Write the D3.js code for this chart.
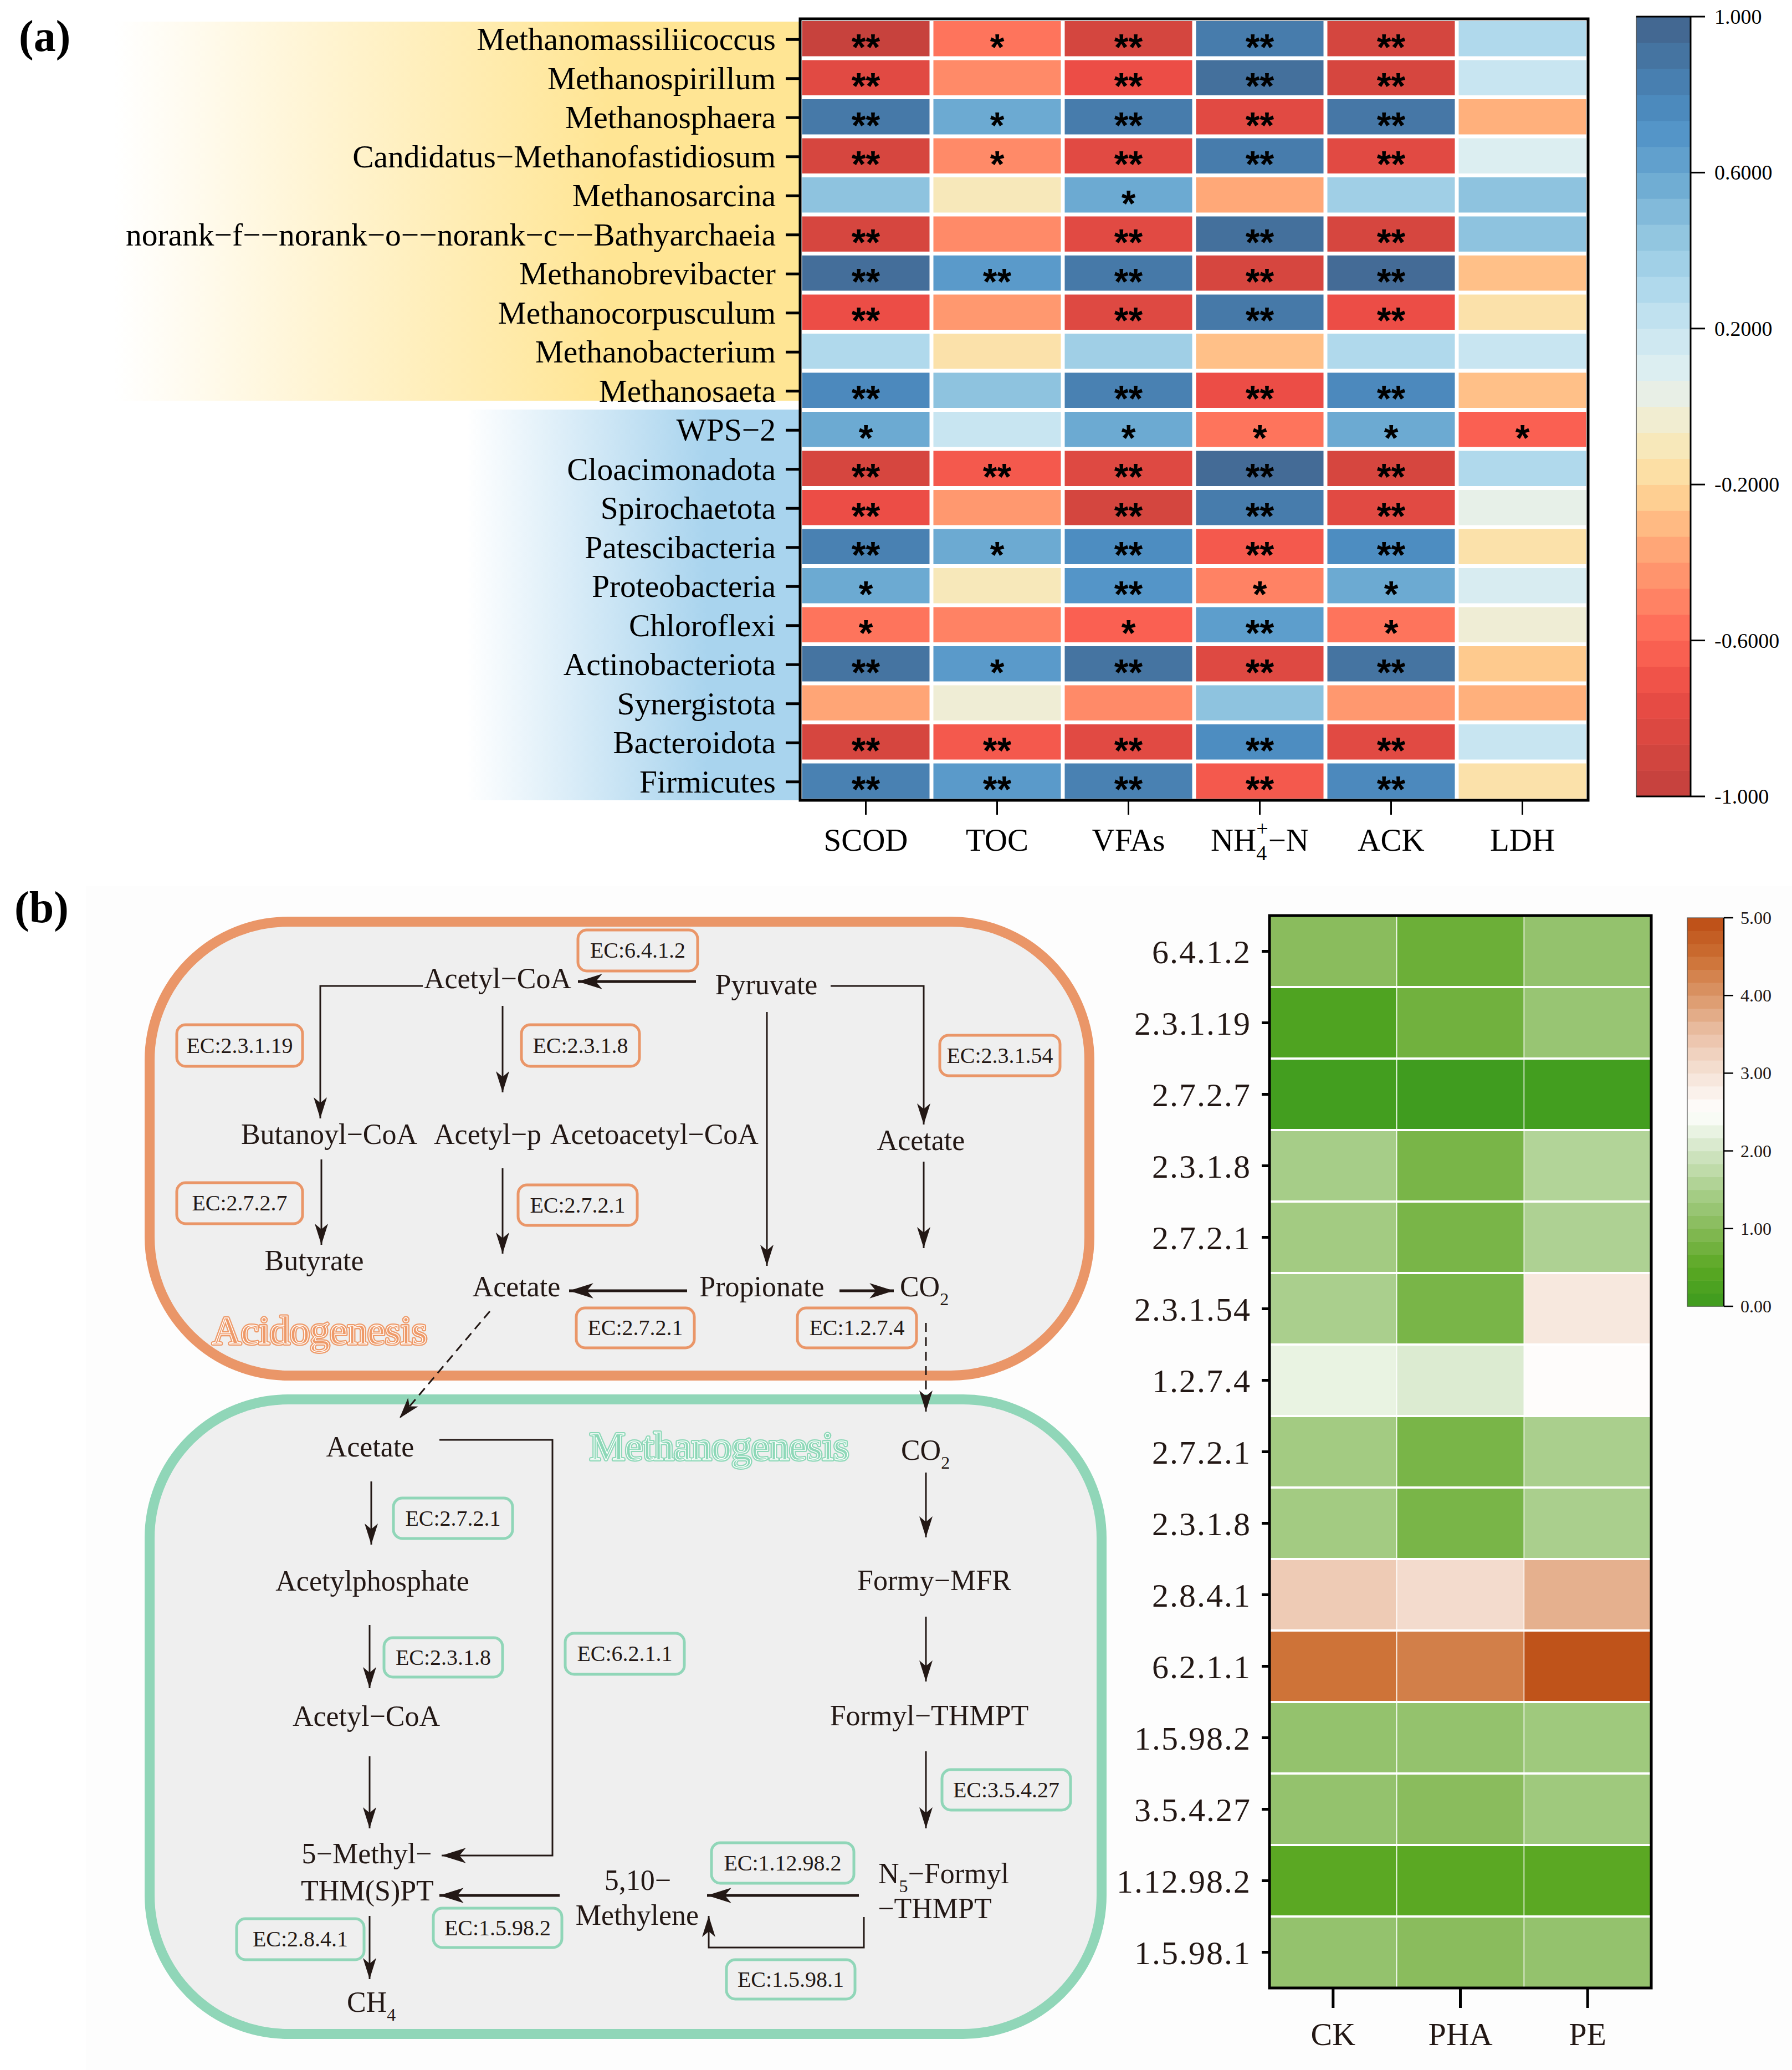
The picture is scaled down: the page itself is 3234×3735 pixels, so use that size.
<!DOCTYPE html>
<html><head><meta charset="utf-8">
<script src="https://cdn.jsdelivr.net/npm/d3@7"></script>
<style>html,body{margin:0;padding:0;background:#fff;}svg{display:block;}</style>
</head><body>
<script>
// ---------------- DATA: panel (a) ----------------
const genera = ["Methanomassiliicoccus","Methanospirillum","Methanosphaera","Candidatus\u2212Methanofastidiosum","Methanosarcina","norank\u2212f\u2212\u2212norank\u2212o\u2212\u2212norank\u2212c\u2212\u2212Bathyarchaeia","Methanobrevibacter","Methanocorpusculum","Methanobacterium","Methanosaeta","WPS\u22122","Cloacimonadota","Spirochaetota","Patescibacteria","Proteobacteria","Chloroflexi","Actinobacteriota","Synergistota","Bacteroidota","Firmicutes"];
const factors = ["SCOD","TOC","VFAs","NH4+-N","ACK","LDH"];
const corr = [
  [-0.97,-0.55,-0.88, 0.85,-0.88, 0.30],
  [-0.80,-0.47,-0.73, 0.92,-0.87, 0.20],
  [ 0.87, 0.58, 0.85,-0.80, 0.88,-0.33],
  [-0.87,-0.47,-0.80, 0.85,-0.80, 0.10],
  [ 0.45,-0.10, 0.58,-0.36, 0.37, 0.45],
  [-0.87,-0.47,-0.80, 0.92,-0.87, 0.45],
  [ 0.93, 0.67, 0.87,-0.87, 0.95,-0.28],
  [-0.73,-0.42,-0.82, 0.87,-0.73,-0.15],
  [ 0.30,-0.15, 0.37,-0.28, 0.30, 0.20],
  [ 0.77, 0.45, 0.82,-0.73, 0.77,-0.28],
  [ 0.58, 0.20, 0.58,-0.55, 0.58,-0.63],
  [-0.87,-0.67,-0.82, 0.95,-0.87, 0.30],
  [-0.73,-0.42,-0.88, 0.85,-0.80, 0.04],
  [ 0.82, 0.58, 0.75,-0.67, 0.75,-0.15],
  [ 0.58,-0.10, 0.70,-0.50, 0.58, 0.12],
  [-0.55,-0.50,-0.63, 0.65,-0.55,-0.02],
  [ 0.90, 0.67, 0.90,-0.82, 0.90,-0.25],
  [-0.37,-0.02,-0.47, 0.45,-0.42,-0.33],
  [-0.87,-0.67,-0.80, 0.75,-0.80, 0.20],
  [ 0.82, 0.67, 0.82,-0.67, 0.77,-0.15]
];
const signif = [
  ["**","*","**","**","**",""],
  ["**","","**","**","**",""],
  ["**","*","**","**","**",""],
  ["**","*","**","**","**",""],
  ["","","*","","",""],
  ["**","","**","**","**",""],
  ["**","**","**","**","**",""],
  ["**","","**","**","**",""],
  ["","","","","",""],
  ["**","","**","**","**",""],
  ["*","","*","*","*","*"],
  ["**","**","**","**","**",""],
  ["**","","**","**","**",""],
  ["**","*","**","**","**",""],
  ["*","","**","*","*",""],
  ["*","","*","**","*",""],
  ["**","*","**","**","**",""],
  ["","","","","",""],
  ["**","**","**","**","**",""],
  ["**","**","**","**","**",""]
];
const corrTicks = [1,0.6,0.2,-0.2,-0.6,-1];
const corrTickLabels = ["1.000","0.6000","0.2000","-0.2000","-0.6000","-1.000"];
const corrStops = [-1,-0.87,-0.73,-0.6,-0.47,-0.33,-0.2,-0.07,0,0.07,0.2,0.33,0.47,0.6,0.73,0.87,1];
const corrColors = ["#C2413D","#D6463F","#EC4D46","#FE6655","#FF8A68","#FFB07C","#FEDA9A","#F5ECC4","#EDEEDC","#E2F1F1","#C8E5F1","#A9D5EA","#8AC0DD","#67A6D0","#4E90C5","#4679A8","#42628A"];

// ---------------- DATA: panel (b) heatmap ----------------
const enzymes = ["6.4.1.2","2.3.1.19","2.7.2.7","2.3.1.8","2.7.2.1","2.3.1.54","1.2.7.4","2.7.2.1","2.3.1.8","2.8.4.1","6.2.1.1","1.5.98.2","3.5.4.27","1.12.98.2","1.5.98.1"];
const groups = ["CK","PHA","PE"];
const abund = [
  [1.05,0.70,1.20],
  [0.30,0.75,1.25],
  [0.10,0.05,0.10],
  [1.45,0.85,1.60],
  [1.40,0.85,1.55],
  [1.50,0.85,2.90],
  [2.25,2.10,2.55],
  [1.40,0.85,1.50],
  [1.40,0.85,1.50],
  [3.35,3.10,3.70],
  [4.45,4.30,4.90],
  [1.20,1.20,1.35],
  [1.20,1.05,1.35],
  [0.50,0.50,0.50],
  [1.20,1.05,1.20]
];
const abundTicks = [5,4,3,2,1,0];
const abundStops = [0,0.5,1,1.5,2,2.5,3,3.5,4,4.5,5];
const abundColors = ["#3D9B1E","#5BA823","#86BA58","#AACF8D","#D3E6C5","#FFFFFF","#F5E2D6","#EBC1A7","#DB9769","#CC6F33","#BC4C14"];

// ---------------- DATA: pathway diagram ----------------
const acidNodes = [
  {t:"Acetyl\u2212CoA",x:898,y:1783},{t:"Pyruvate",x:1383,y:1794},
  {t:"Butanoyl\u2212CoA",x:594,y:2064},{t:"Acetyl\u2212p",x:880,y:2064},
  {t:"Acetoacetyl\u2212CoA",x:1181,y:2064},{t:"Acetate",x:1662,y:2075},
  {t:"Butyrate",x:567,y:2292},{t:"Acetate",x:932,y:2339},{t:"Propionate",x:1375,y:2339},
  {t:"CO",sub:"2",x:1668,y:2339}
];
const acidEC = [
  ["EC:6.4.1.2",1043,1678,1259,1752],["EC:2.3.1.19",319,1849,546,1924],["EC:2.3.1.8",941,1849,1154,1924],
  ["EC:2.3.1.54",1696,1868,1913,1941],["EC:2.7.2.7",319,2134,546,2208],["EC:2.7.2.1",935,2138,1150,2211],
  ["EC:2.7.2.1",1040,2360,1253,2432],["EC:1.2.7.4",1439,2360,1654,2432]
];
const acidArrows = [
  {p:[[1256,1771],[1043,1771]],w:5},{p:[[763,1779],[578,1779],[578,2018]],w:3},
  {p:[[1499,1779],[1667,1779],[1667,2029]],w:3},{p:[[907,1815],[907,1971]],w:3},
  {p:[[1384,1826],[1384,2284]],w:3},{p:[[1667,2096],[1667,2252]],w:3},
  {p:[[580,2092],[580,2246]],w:3},{p:[[907,2108],[907,2262]],w:3},
  {p:[[1240,2329],[1027,2329]],w:5},{p:[[1515,2329],[1613,2329]],w:5},
  {p:[[884,2366],[721,2559]],w:3,dash:true},{p:[[1671,2387],[1671,2547]],w:3,dash:true}
];
const methNodes = [
  {t:"Acetate",x:668,y:2628},{t:"CO",sub:"2",x:1670,y:2634},{t:"Acetylphosphate",x:672,y:2870},
  {t:"Acetyl\u2212CoA",x:661,y:3114},{t:"5\u2212Methyl\u2212",x:662,y:3362},{t:"THM(S)PT",x:663,y:3429},
  {t:"CH",sub:"4",x:670,y:3630},{t:"5,10\u2212",x:1151,y:3410},{t:"Methylene",x:1150,y:3473},
  {t:"N",sub:"5",rest:"\u2212Formyl",x:1703,y:3398},{t:"\u2212THMPT",x:1687,y:3461},
  {t:"Formy\u2212MFR",x:1686,y:2869},{t:"Formyl\u2212THMPT",x:1677,y:3113}
];
const methEC = [
  ["EC:2.7.2.1",710,2703,925,2776],["EC:2.3.1.8",693,2955,907,3026],["EC:6.2.1.1",1020,2947,1235,3021],
  ["EC:1.5.98.2",782,3443,1014,3514],["EC:2.8.4.1",427,3462,657,3536],["EC:1.12.98.2",1284,3325,1541,3398],
  ["EC:1.5.98.1",1311,3536,1543,3607],["EC:3.5.4.27",1700,3193,1932,3266]
];
const methArrows = [
  {p:[[793,2598],[997,2598],[997,3348],[797,3348]],w:3,thickEnd:true},
  {p:[[670,2673],[670,2787]],w:3},{p:[[667,2932],[667,3046]],w:3},{p:[[667,3169],[667,3299]],w:3},
  {p:[[1010,3420],[793,3420]],w:5},{p:[[667,3457],[667,3571]],w:3},{p:[[1550,3420],[1276,3420]],w:5},
  {p:[[1559,3459],[1559,3514],[1279,3514],[1279,3457]],w:3},
  {p:[[1671,2657],[1671,2774]],w:3},{p:[[1671,2917],[1671,3034]],w:3},{p:[[1671,3160],[1671,3299]],w:3}
];

// ---------------- DRAW ----------------
const W=3234,H=3735;
const SERIF="'Liberation Serif','Times New Roman',serif";
const INK="#231815";
const svg=d3.select("body").append("svg").attr("width",W).attr("height",H).attr("viewBox",`0 0 ${W} ${H}`);
svg.append("rect").attr("width",W).attr("height",H).attr("fill","#fff");
const defs=svg.append("defs");
function grad(id,c){
  const g=defs.append("linearGradient").attr("id",id).attr("x1","0").attr("x2","1").attr("y1","0").attr("y2","0");
  g.append("stop").attr("offset","0").attr("stop-color","#fff");
  g.append("stop").attr("offset","0.72").attr("stop-color",c);
  g.append("stop").attr("offset","1").attr("stop-color",c);
}
grad("gy","#FFE594");grad("gb","#A9D4EE");

// ===== Panel (a) =====
const ax0=1444,ax1=2866,ay0=34,ay1=1444;
const xA=d3.scaleBand().domain(factors).range([ax0,ax1]);
const yA=d3.scaleBand().domain(d3.range(genera.length)).range([ay0,ay1]);
const cA=d3.scaleLinear().domain(corrStops).range(corrColors).interpolate(d3.interpolateRgb).clamp(true);

svg.append("rect").attr("x",207).attr("y",yA(0)+5).attr("width",ax0-207).attr("height",yA(9)+yA.bandwidth()-16-(yA(0)+5)).attr("fill","url(#gy)");
svg.append("rect").attr("x",842).attr("y",yA(10)).attr("width",ax0-842).attr("height",ay1-yA(10)).attr("fill","url(#gb)");

svg.append("text").attr("x",34).attr("y",92).attr("font-family",SERIF).attr("font-weight","bold").attr("font-size",80).text("(a)");

const cellsA=svg.append("g");
genera.forEach((g,i)=>{
  factors.forEach((f,j)=>{
    cellsA.append("rect").attr("x",xA(f)+3.5).attr("y",yA(i)+4).attr("width",xA.bandwidth()-7).attr("height",yA.bandwidth()-7)
      .attr("fill",cA(corr[i][j]));
    if(signif[i][j]){
      cellsA.append("text").attr("x",xA(f)+xA.bandwidth()/2).attr("y",yA(i)+yA.bandwidth()/2+4+0.52*66)
        .attr("text-anchor","middle").attr("font-family","'Liberation Sans',Arial,sans-serif").attr("font-weight","bold").attr("font-size",66)
        .attr("fill","#000").text(signif[i][j]);
    }
  });
});
svg.append("rect").attr("x",ax0).attr("y",ay0).attr("width",ax1-ax0).attr("height",ay1-ay0).attr("fill","none").attr("stroke","#000").attr("stroke-width",5);
const yAxisA=svg.append("g");
genera.forEach((g,i)=>{
  const cy=yA(i)+yA.bandwidth()/2+2;
  yAxisA.append("line").attr("x1",ax0-26).attr("x2",ax0).attr("y1",cy).attr("y2",cy).attr("stroke","#000").attr("stroke-width",5);
  yAxisA.append("text").attr("x",1400).attr("y",cy+19).attr("text-anchor","end").attr("font-family",SERIF).attr("font-size",57.5).attr("fill","#000").text(g);
});
factors.forEach((f,j)=>{
  const cx=xA(f)+xA.bandwidth()/2;
  svg.append("line").attr("x1",cx).attr("x2",cx).attr("y1",ay1).attr("y2",ay1+26).attr("stroke","#000").attr("stroke-width",3);
  const t=svg.append("text").attr("x",cx).attr("y",1535).attr("text-anchor","middle").attr("font-family",SERIF).attr("font-size",57).attr("fill","#000");
  if(f==="NH4+-N"){
    t.append("tspan").text("NH");
    t.append("tspan").attr("font-size",38).attr("dy",17).text("4");
    t.append("tspan").attr("font-size",38).attr("dx",-19).attr("dy",-44).text("+");
    t.append("tspan").attr("dy",27).text("\u2212N");
  } else t.text(f);
});
const cbAx=2953,cbAw=98;
const yCA=d3.scaleLinear().domain([-1,1]).range([1437,30]);
const nb=30;
d3.range(nb).forEach(k=>{
  const v0=-1+k*2/nb,v1=-1+(k+1)*2/nb;
  svg.append("rect").attr("x",cbAx).attr("y",yCA(v1)).attr("width",cbAw).attr("height",yCA(v0)-yCA(v1)+0.6).attr("fill",cA((v0+v1)/2));
});
svg.append("rect").attr("x",cbAx).attr("y",30).attr("width",cbAw).attr("height",1407).attr("fill","none").attr("stroke","#555").attr("stroke-width",1.5);
svg.append("line").attr("x1",cbAx+cbAw).attr("x2",cbAx+cbAw).attr("y1",30).attr("y2",1437).attr("stroke","#000").attr("stroke-width",3);
corrTicks.forEach((v,k)=>{
  svg.append("line").attr("x1",cbAx+cbAw).attr("x2",cbAx+cbAw+26).attr("y1",yCA(v)).attr("y2",yCA(v)).attr("stroke","#000").attr("stroke-width",3);
  svg.append("text").attr("x",3094).attr("y",yCA(v)+13).attr("font-family",SERIF).attr("font-size",38).attr("fill","#000").text(corrTickLabels[k]);
});
svg.append("line").attr("x1",cbAx).attr("x2",cbAx+cbAw).attr("y1",30).attr("y2",30).attr("stroke","#000").attr("stroke-width",3);
svg.append("line").attr("x1",cbAx).attr("x2",cbAx+cbAw).attr("y1",1437).attr("y2",1437).attr("stroke","#000").attr("stroke-width",3);

// ===== Panel (b) =====
svg.append("rect").attr("x",155).attr("y",1598).attr("width",W-155).attr("height",H-1598).attr("fill","#FDFDFD");
svg.append("text").attr("x",26).attr("y",1664).attr("font-family",SERIF).attr("font-weight","bold").attr("font-size",80).text("(b)");

function bigBox(x,y,w,h,stroke){
  svg.append("rect").attr("x",x).attr("y",y).attr("width",w).attr("height",h).attr("rx",250).attr("ry",250)
    .attr("fill","#EFEFEF").attr("stroke",stroke).attr("stroke-width",18);
}
const ORANGE="#EA9668",GREEN="#90D6B8";
bigBox(270,1663,1696,819,ORANGE);
bigBox(270,2525,1718,1145,GREEN);

function titleText(t,x,y,c){
  svg.append("text").attr("x",x).attr("y",y).attr("text-anchor","middle").attr("font-family",SERIF).attr("font-size",72)
    .attr("fill",c).attr("stroke",c).attr("stroke-width",6).attr("stroke-linejoin","round").text(t);
  svg.append("text").attr("x",x).attr("y",y).attr("text-anchor","middle").attr("font-family",SERIF).attr("font-size",72)
    .attr("fill","none").attr("stroke","#fff").attr("stroke-width",1.4).text(t);
}
titleText("Acidogenesis",577,2425,"#EE9A69");
titleText("Methanogenesis",1298,2634,"#8ED8B8");

function marker(id,s){
  defs.append("marker").attr("id",id).attr("markerUnits","userSpaceOnUse").attr("viewBox","-40 -15 44 30")
    .attr("refX",0).attr("refY",0).attr("markerWidth",44*s).attr("markerHeight",30*s).attr("orient","auto")
    .append("path").attr("d","M0,0 L-38,-12 L-28,0 L-38,12 Z").attr("fill",INK);
}
marker("ah",1);marker("ahb",1.15);
const line=d3.line();
function drawArrows(arr){
  arr.forEach(a=>{
    svg.append("path").attr("d",line(a.p)).attr("fill","none").attr("stroke",INK).attr("stroke-width",a.w)
      .attr("stroke-dasharray",a.dash?"16,10":null)
      .attr("marker-end",(a.w>3||a.thickEnd)?"url(#ahb)":"url(#ah)");
  });
}
drawArrows(acidArrows);drawArrows(methArrows);

function drawNodes(nodes){
  nodes.forEach(n=>{
    const t=svg.append("text").attr("x",n.x).attr("y",n.y).attr("text-anchor","middle").attr("font-family",SERIF).attr("font-size",52).attr("fill",INK);
    t.append("tspan").text(n.t);
    if(n.sub){
      t.append("tspan").attr("font-size",32).attr("dy",16).text(n.sub);
      if(n.rest) t.append("tspan").attr("dy",-16).text(n.rest);
    }
  });
}
drawNodes(acidNodes);drawNodes(methNodes);

function drawEC(list,c){
  list.forEach(e=>{
    const [t,x1,y1,x2,y2]=e;
    svg.append("rect").attr("x",x1).attr("y",y1).attr("width",x2-x1).attr("height",y2-y1).attr("rx",16).attr("ry",16)
      .attr("fill","none").attr("stroke",c).attr("stroke-width",5);
    svg.append("text").attr("x",(x1+x2)/2).attr("y",(y1+y2)/2+13).attr("text-anchor","middle").attr("font-family",SERIF)
      .attr("font-size",40).attr("fill",INK).text(t);
  });
}
drawEC(acidEC,ORANGE);drawEC(methEC,GREEN);

const bx0=2291,bx1=2980,by0=1652,by1=3587;
const xB=d3.scaleBand().domain(groups).range([bx0,bx1]);
const yB=d3.scaleBand().domain(d3.range(enzymes.length)).range([by0,by1]);
const cB=d3.scaleLinear().domain(abundStops).range(abundColors).interpolate(d3.interpolateRgb).clamp(true);
enzymes.forEach((e,i)=>{
  groups.forEach((g,j)=>{
    svg.append("rect").attr("x",xB(g)).attr("y",yB(i)).attr("width",xB.bandwidth()).attr("height",yB.bandwidth()).attr("fill",cB(abund[i][j]));
  });
});
d3.range(1,enzymes.length).forEach(i=>{
  svg.append("line").attr("x1",bx0).attr("x2",bx1).attr("y1",yB(i)).attr("y2",yB(i)).attr("stroke","#fff").attr("stroke-width",4);
});
groups.slice(1).forEach(g=>{
  svg.append("line").attr("x1",xB(g)).attr("x2",xB(g)).attr("y1",by0).attr("y2",by1).attr("stroke","#fff").attr("stroke-width",1.6);
});
svg.append("rect").attr("x",bx0).attr("y",by0).attr("width",bx1-bx0).attr("height",by1-by0).attr("fill","none").attr("stroke","#000").attr("stroke-width",5);
enzymes.forEach((e,i)=>{
  const cy=yB(i)+yB.bandwidth()/2;
  svg.append("line").attr("x1",bx0-14).attr("x2",bx0).attr("y1",cy).attr("y2",cy).attr("stroke","#000").attr("stroke-width",5);
  svg.append("text").attr("x",2258).attr("y",cy+21).attr("text-anchor","end").attr("font-family",SERIF).attr("font-size",60)
    .attr("letter-spacing",2).attr("fill",INK).text(e);
});
groups.forEach(g=>{
  const cx=xB(g)+xB.bandwidth()/2;
  svg.append("line").attr("x1",cx).attr("x2",cx).attr("y1",by1).attr("y2",by1+36).attr("stroke","#000").attr("stroke-width",5);
  svg.append("text").attr("x",cx).attr("y",3690).attr("text-anchor","middle").attr("font-family",SERIF).attr("font-size",58).attr("fill",INK).text(g);
});
const cbBx=3045,cbBw=66;
const yCB=d3.scaleLinear().domain([0,5]).range([2357,1656]);
d3.range(nb).forEach(k=>{
  const v0=k*5/nb,v1=(k+1)*5/nb;
  svg.append("rect").attr("x",cbBx).attr("y",yCB(v1)).attr("width",cbBw).attr("height",yCB(v0)-yCB(v1)+0.6).attr("fill",cB((v0+v1)/2));
});
svg.append("rect").attr("x",cbBx).attr("y",1656).attr("width",cbBw).attr("height",701).attr("fill","none").attr("stroke","#555").attr("stroke-width",1.2);
svg.append("line").attr("x1",cbBx+cbBw).attr("x2",cbBx+cbBw).attr("y1",1656).attr("y2",2357).attr("stroke","#000").attr("stroke-width",2.5);
abundTicks.forEach(v=>{
  svg.append("line").attr("x1",cbBx+cbBw).attr("x2",cbBx+cbBw+17).attr("y1",yCB(v)).attr("y2",yCB(v)).attr("stroke","#000").attr("stroke-width",2.5);
  svg.append("text").attr("x",3141).attr("y",yCB(v)+11).attr("font-family",SERIF).attr("font-size",32).attr("fill",INK).text(v.toFixed(2));
});
</script>
</body></html>
